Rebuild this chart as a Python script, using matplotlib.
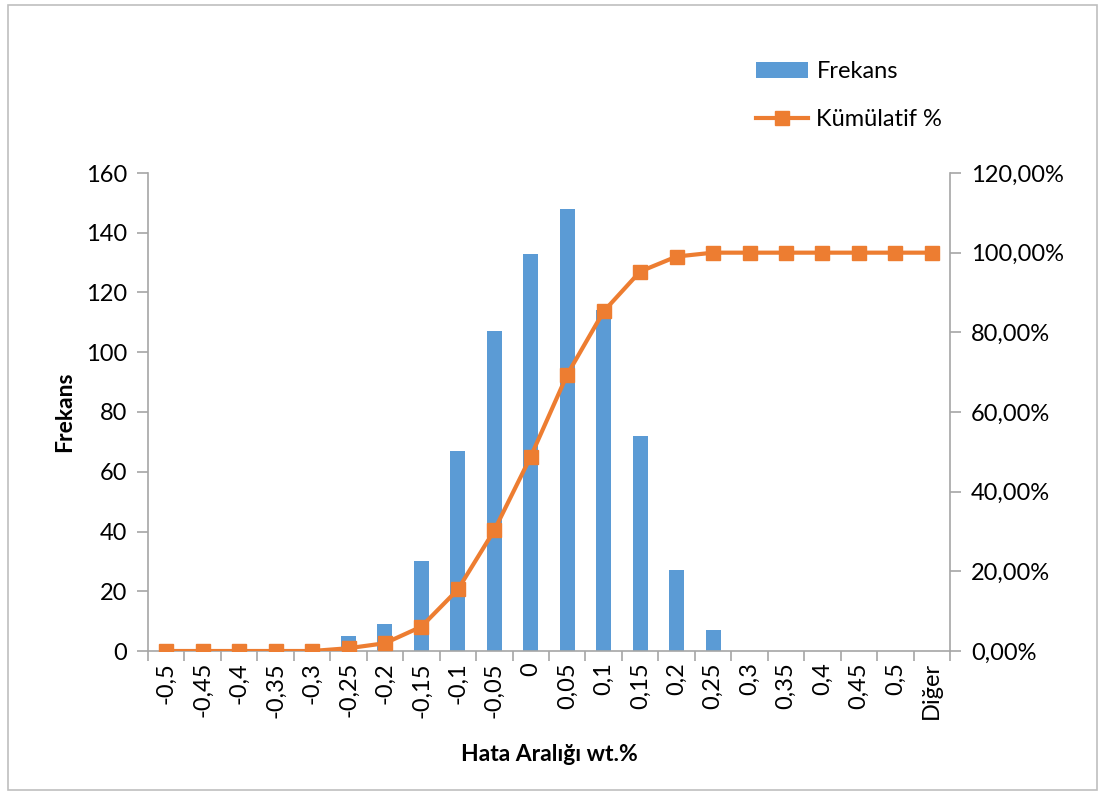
import matplotlib.pyplot as plt
from matplotlib.patches import Rectangle
from matplotlib.ticker import FuncFormatter

plt.rcParams['font.family'] = ['Lato', 'DejaVu Sans']

# histogram bins and counts
bins = ['-0,5', '-0,45', '-0,4', '-0,35', '-0,3', '-0,25', '-0,2', '-0,15', '-0,1', '-0,05',
        '0', '0,05', '0,1', '0,15', '0,2', '0,25', '0,3', '0,35', '0,4', '0,45', '0,5', 'Diğer']
frekans = [0, 0, 0, 0, 0, 5, 9, 30, 67, 107, 133, 148, 114, 72, 27, 7, 0, 0, 0, 0, 0, 0]
kumulatif = [0.0, 0.0, 0.0, 0.0, 0.0, 0.70, 1.95, 6.12, 15.44, 30.32, 48.82, 69.40,
             85.26, 95.27, 99.03, 100.0, 100.0, 100.0, 100.0, 100.0, 100.0, 100.0]

blue = '#5B9BD5'
orange = '#ED7D31'
grey = '#A6A6A6'
fs = 17

fig = plt.figure(figsize=(11, 7.92), dpi=100)
fig.patches.append(Rectangle((8 / 1100, 2 / 792), 1089 / 1100, 785 / 792, transform=fig.transFigure,
                             fill=False, edgecolor='#BFBFBF', linewidth=1.2))

ax = fig.add_axes([148 / 1100, 141 / 792, 802 / 1100, 478 / 792])
x = list(range(len(bins)))
ax.bar(x, frekans, width=0.41, color=blue, label='Frekans', zorder=2)
ax.set_xlim(-0.5, len(bins) - 0.5)
ax.set_ylim(0, 160)
ax.set_yticks(range(0, 161, 20))
ax.set_xticks(x)
ax.set_xticklabels(bins, rotation=90, fontsize=fs)
ax.set_xticks([i + 0.5 for i in range(-1, len(bins))], minor=True)
ax.tick_params(axis='x', which='major', length=0, pad=8)
ax.tick_params(axis='x', which='minor', length=7, color=grey, width=1.2)
ax.tick_params(axis='y', labelsize=fs, length=8, color=grey, width=1.2, pad=7)
for s in ['top', 'right']:
    ax.spines[s].set_visible(False)
for s in ['left', 'bottom']:
    ax.spines[s].set_color(grey)
    ax.spines[s].set_linewidth(1.2)
ax.set_ylabel('Frekans', fontsize=fs - 0.5, fontweight='bold', labelpad=8)
ax.set_xlabel('Hata Aralığı wt.%', fontsize=fs - 0.5, fontweight='bold', labelpad=18)

ax2 = ax.twinx()
ax2.plot(x, kumulatif, color=orange, linewidth=3, marker='s', markersize=10,
         label='Kümülatif %', zorder=3)
ax2.set_ylim(0, 120)
ax2.set_yticks(range(0, 121, 20))
ax2.yaxis.set_major_formatter(FuncFormatter(lambda v, p: f'{v:.2f}'.replace('.', ',') + '%'))
ax2.tick_params(axis='y', labelsize=fs, length=8, color=grey, width=1.2, pad=7)
for s in ['top', 'left', 'bottom']:
    ax2.spines[s].set_visible(False)
ax2.spines['right'].set_color(grey)
ax2.spines['right'].set_linewidth(1.2)

h1, l1 = ax.get_legend_handles_labels()
h2, l2 = ax2.get_legend_handles_labels()
fig.legend(h1 + h2, l1 + l2, loc='upper left', bbox_to_anchor=(735 / 1100, 1 - 40 / 792),
           frameon=False, fontsize=fs, handlelength=2.2, labelspacing=1.15, handletextpad=0.35)

fig.savefig('out.png', dpi=100)
